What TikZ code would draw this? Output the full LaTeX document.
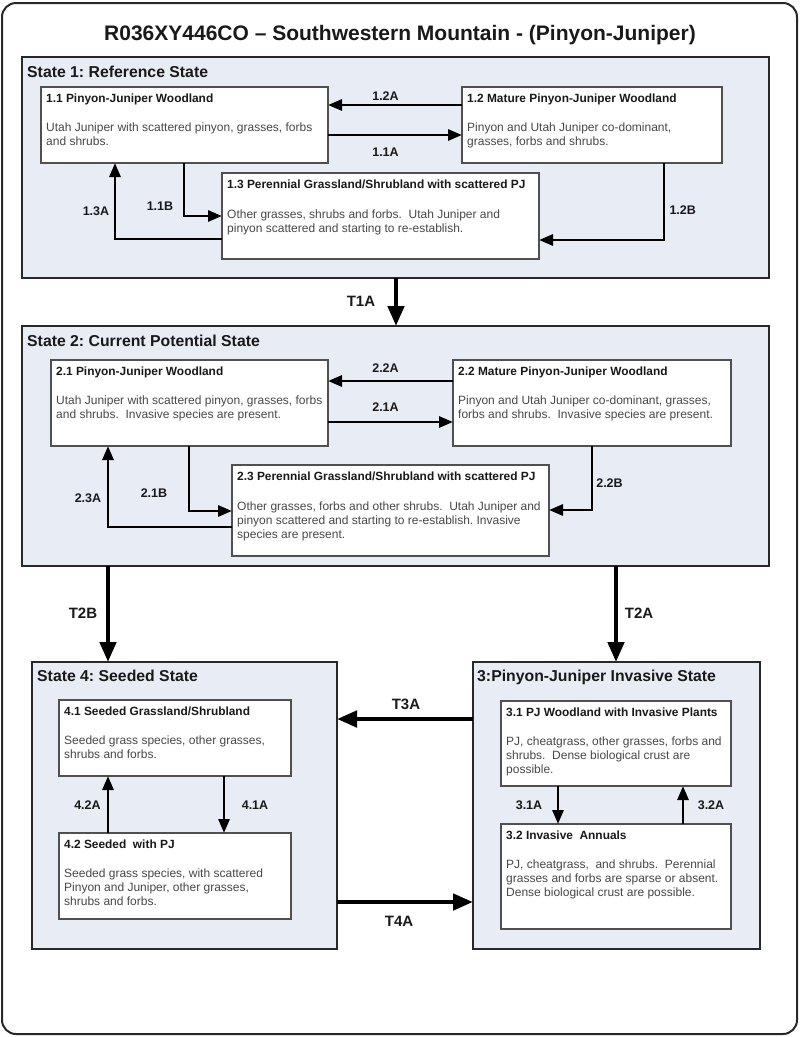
\documentclass[tikz,border=0pt]{standalone}
\usepackage{fontspec}
\setmainfont{Liberation Sans}
\usetikzlibrary{arrows.meta}
\definecolor{statefill}{RGB}{232,236,244}
\definecolor{framec}{RGB}{40,40,40}
\definecolor{boxline}{RGB}{80,80,80}
\definecolor{bodygray}{RGB}{72,72,72}
\definecolor{ttlc}{RGB}{25,25,25}
\frenchspacing
\begin{document}
\begin{tikzpicture}[x=1pt,y=-1pt,
  statebox/.style={draw=framec, line width=2pt, fill=statefill, anchor=north west, inner sep=0pt, outer sep=0pt},
  ibox/.style={draw=boxline, line width=1.3pt, fill=white, anchor=north west, inner sep=0pt, outer sep=0pt},
  stitle/.style={anchor=base west, inner sep=0pt, text=ttlc, font=\fontsize{15.8}{18}\selectfont\bfseries},
  btitle/.style={anchor=base west, inner sep=0pt, text=ttlc, font=\fontsize{11.9}{14}\selectfont\bfseries},
  btext/.style={anchor=base west, inner sep=0pt, text=bodygray, font=\fontsize{12}{14}\selectfont},
  lbl/.style={inner sep=0pt, text=ttlc, font=\fontsize{12.5}{14}\selectfont\bfseries},
  tlbl/.style={inner sep=0pt, text=ttlc, font=\fontsize{15}{17}\selectfont\bfseries},
  arr/.style={-{Triangle[length=14pt,width=11pt]}, line width=2.9pt, draw=black},
  tarr/.style={-{Triangle[length=20pt,width=16pt]}, line width=4.6pt, draw=black}
]
\useasboundingbox (0,0) rectangle (800,1037);
\fill[white] (0,0) rectangle (800,1037);
\draw[rounded corners=14pt, line width=2pt, draw=framec] (2,3) rectangle (797,1034);
\node[anchor=base, inner sep=0pt, text=ttlc, font=\fontsize{21}{25}\selectfont\bfseries] (title) at (400,40) {R036XY446CO – Southwestern Mountain - (Pinyon-Juniper)};

% state boxes
\node[statebox, minimum width=747pt, minimum height=221pt] (s1) at (22,57) {};
\node[statebox, minimum width=747pt, minimum height=240pt] (s2) at (22,326) {};
\node[statebox, minimum width=305pt, minimum height=287pt] (s4) at (32,662) {};
\node[statebox, minimum width=287pt, minimum height=287pt] (s3) at (473,662) {};

\node[stitle] (st1) at (27,77.7) {State 1: Reference State};
\node[stitle] (st2) at (27,346) {State 2: Current Potential State};
\node[stitle] (st4) at (37,681) {State 4: Seeded State};
\node[stitle] (st3) at (477,681) {3:Pinyon-Juniper Invasive State};

% inner boxes
\node[ibox, minimum width=287pt, minimum height=76pt] (b11) at (41,87) {};
\node[ibox, minimum width=260pt, minimum height=76pt] (b12) at (462,87) {};
\node[ibox, minimum width=317pt, minimum height=86pt] (b13) at (222,173) {};
\node[ibox, minimum width=277pt, minimum height=86pt] (b21) at (51,360) {};
\node[ibox, minimum width=278pt, minimum height=86pt] (b22) at (453,360) {};
\node[ibox, minimum width=317pt, minimum height=91pt] (b23) at (232,465) {};
\node[ibox, minimum width=232pt, minimum height=76pt] (b41) at (59,700) {};
\node[ibox, minimum width=232pt, minimum height=86pt] (b42) at (59,833) {};
\node[ibox, minimum width=230pt, minimum height=85pt] (b31) at (501,701) {};
\node[ibox, minimum width=230pt, minimum height=105pt] (b32) at (501,824) {};

% box texts
\node[btitle] (b11t) at ([xshift=5pt,yshift=-15pt]b11.north west) {1.1 Pinyon-Juniper Woodland};
\node[btext] (b11b) at ([xshift=5pt,yshift=-44pt]b11.north west) {\parbox[t]{300pt}{Utah Juniper with scattered pinyon, grasses, forbs\\and shrubs.}};
\node[btitle] (b12t) at ([xshift=5pt,yshift=-15pt]b12.north west) {1.2 Mature Pinyon-Juniper Woodland};
\node[btext] (b12b) at ([xshift=5pt,yshift=-44pt]b12.north west) {\parbox[t]{300pt}{Pinyon and Utah Juniper co-dominant,\\grasses, forbs and shrubs.}};
\node[btitle] (b13t) at ([xshift=5pt,yshift=-15pt]b13.north west) {1.3 Perennial Grassland/Shrubland with scattered PJ};
\node[btext] (b13b) at ([xshift=5pt,yshift=-45pt]b13.north west) {\parbox[t]{320pt}{Other grasses, shrubs and forbs.\ \ Utah Juniper and\\pinyon scattered and starting to re-establish.}};

\node[btitle] (b21t) at ([xshift=5pt,yshift=-15pt]b21.north west) {2.1 Pinyon-Juniper Woodland};
\node[btext] (b21b) at ([xshift=5pt,yshift=-44pt]b21.north west) {\parbox[t]{300pt}{Utah Juniper with scattered pinyon, grasses, forbs\\and shrubs.\ \ Invasive species are present.}};
\node[btitle] (b22t) at ([xshift=5pt,yshift=-15pt]b22.north west) {2.2 Mature Pinyon-Juniper Woodland};
\node[btext] (b22b) at ([xshift=5pt,yshift=-44pt]b22.north west) {\parbox[t]{300pt}{Pinyon and Utah Juniper co-dominant, grasses,\\forbs and shrubs.\ \ Invasive species are present.}};
\node[btitle] (b23t) at ([xshift=5pt,yshift=-15pt]b23.north west) {2.3 Perennial Grassland/Shrubland with scattered PJ};
\node[btext] (b23b) at ([xshift=5pt,yshift=-45pt]b23.north west) {\parbox[t]{320pt}{Other grasses, forbs and other shrubs.\ \ Utah Juniper and\\pinyon scattered and starting to re-establish. Invasive\\species are present.}};

\node[btitle] (b41t) at ([xshift=5pt,yshift=-15pt]b41.north west) {4.1 Seeded Grassland/Shrubland};
\node[btext] (b41b) at ([xshift=5pt,yshift=-44pt]b41.north west) {\parbox[t]{300pt}{Seeded grass species, other grasses,\\shrubs and forbs.}};
\node[btitle] (b42t) at ([xshift=5pt,yshift=-15pt]b42.north west) {4.2 Seeded\ \ with PJ};
\node[btext] (b42b) at ([xshift=5pt,yshift=-44pt]b42.north west) {\parbox[t]{300pt}{Seeded grass species, with scattered\\Pinyon and Juniper, other grasses,\\shrubs and forbs.}};

\node[btitle] (b31t) at ([xshift=5pt,yshift=-15pt]b31.north west) {3.1 PJ Woodland with Invasive Plants};
\node[btext] (b31b) at ([xshift=5pt,yshift=-44pt]b31.north west) {\parbox[t]{300pt}{PJ, cheatgrass, other grasses, forbs and\\shrubs.\ \ Dense biological crust are\\possible.}};
\node[btitle] (b32t) at ([xshift=5pt,yshift=-15pt]b32.north west) {3.2 Invasive\ \ Annuals};
\node[btext] (b32b) at ([xshift=5pt,yshift=-44pt]b32.north west) {\parbox[t]{300pt}{PJ, cheatgrass,\ \ and shrubs.\ \ Perennial\\grasses and forbs are sparse or absent.\\Dense biological crust are possible.}};

% state 1 arrows
\draw[arr] ([yshift=-18pt]b12.north west) -- ([yshift=-18pt]b11.north east);
\draw[arr] ([yshift=-48pt]b11.north east) -- ([yshift=-48pt]b12.north west);
\draw[arr] ([xshift=143pt]b11.south west) |- ([yshift=-43pt]b13.north west);
\draw[arr] ([yshift=-66pt]b13.north west) -| ([xshift=74pt]b11.south west);
\draw[arr] ([xshift=202pt]b12.south west) |- ([yshift=-67pt]b13.north east);
\node[lbl] (l12a) at (385.5,96) {1.2A};
\node[lbl] (l11a) at (385.5,152) {1.1A};
\node[lbl] (l11b) at (160,206) {1.1B};
\node[lbl] (l13a) at (96,211) {1.3A};
\node[lbl] (l12b) at (682.7,210) {1.2B};

% state 2 arrows
\draw[arr] ([yshift=-21pt]b22.north west) -- ([yshift=-21pt]b21.north east);
\draw[arr] ([yshift=-62pt]b21.north east) -- ([yshift=-62pt]b22.north west);
\draw[arr] ([xshift=138pt]b21.south west) |- ([yshift=-46pt]b23.north west);
\draw[arr] ([yshift=-62pt]b23.north west) -| ([xshift=57pt]b21.south west);
\draw[arr] ([xshift=139pt]b22.south west) |- ([yshift=-45pt]b23.north east);
\node[lbl] (l22a) at (385.5,368.5) {2.2A};
\node[lbl] (l21a) at (385.5,407.5) {2.1A};
\node[lbl] (l21b) at (154,493) {2.1B};
\node[lbl] (l23a) at (88,498) {2.3A};
\node[lbl] (l22b) at (609.5,483.5) {2.2B};

% state 4 and 3 arrows
\draw[arr] ([xshift=49pt]b42.north west) -- ([xshift=49pt]b41.south west);
\draw[arr] ([xshift=165pt]b41.south west) -- ([xshift=165pt]b42.north west);
\draw[arr] ([xshift=57pt]b31.south west) -- ([xshift=57pt]b32.north west);
\draw[arr] ([xshift=182pt]b32.north west) -- ([xshift=182pt]b31.south west);
\node[lbl] (l42a) at (87.5,805) {4.2A};
\node[lbl] (l41a) at (255,805) {4.1A};
\node[lbl] (l31a) at (529,805) {3.1A};
\node[lbl] (l32a) at (711,805) {3.2A};

% transitions
\draw[tarr] ([xshift=374pt]s1.south west) -- ([xshift=374pt]s2.north west);
\draw[tarr] ([xshift=86pt]s2.south west) -- ([xshift=76pt]s4.north west);
\draw[tarr] ([xshift=594pt]s2.south west) -- ([xshift=143pt]s3.north west);
\draw[tarr] ([yshift=-57pt]s3.north west) -- ([yshift=-57pt]s4.north east);
\draw[tarr] ([yshift=-240pt]s4.north east) -- ([yshift=-240pt]s3.north west);
\node[tlbl] (lt1a) at (361,301) {T1A};
\node[tlbl] (lt2b) at (83,613) {T2B};
\node[tlbl] (lt2a) at (639,613) {T2A};
\node[tlbl] (lt3a) at (406,704) {T3A};
\node[tlbl] (lt4a) at (399,921) {T4A};
\end{tikzpicture}
\end{document}
